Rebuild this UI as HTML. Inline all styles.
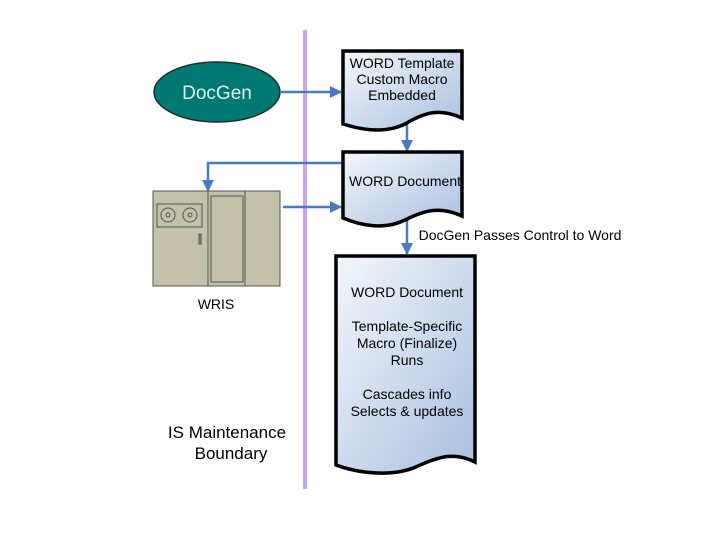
<!DOCTYPE html>
<html><head><style>body{margin:0;background:#fff}svg{display:block}</style></head><body>
<svg width="720" height="540" viewBox="0 0 720 540" xmlns="http://www.w3.org/2000/svg" font-family="Liberation Sans, sans-serif">
<defs>
<linearGradient id="g" x1="0" y1="0" x2="1" y2="1"><stop offset="0" stop-color="#f4f7fc"/><stop offset="1" stop-color="#a9bfe0"/></linearGradient>
<marker id="a" markerWidth="12" markerHeight="12" refX="11" refY="6" orient="auto" markerUnits="userSpaceOnUse"><path d="M0,0L12,6L0,12z" fill="#4a78c2"/></marker>
</defs>
<rect x="303" y="30" width="4" height="459" fill="#c8a4f2"/>
<ellipse cx="217" cy="92" rx="63" ry="30" fill="#007872" stroke="#1e3030" stroke-width="1.5"/>
<text x="217" y="99" font-size="19" fill="#d8f4f0" text-anchor="middle">DocGen</text>
<g stroke="#4a78c2" stroke-width="2.5" fill="none">
<path d="M280,92H341" marker-end="url(#a)"/>
<path d="M407,122V151" marker-end="url(#a)"/>
<path d="M343,163H208V191" marker-end="url(#a)"/>
<path d="M283,207H341" marker-end="url(#a)"/>
<path d="M407,218V254" marker-end="url(#a)"/>
</g>
<g stroke="#000" stroke-width="3.5" fill="url(#g)">
<path d="M343,51H462V118C440,108 425,112 405,124C385,134 362,130 343,124Z"/>
<path d="M343,152H462V216C440,206 425,210 405,220C385,230 362,226 343,218Z"/>
<path d="M336,256H475V462C455,452 440,456 418,466C395,477 360,474 336,465Z"/>
</g>
<g font-size="14" text-anchor="middle" fill="#000">
<text x="402" y="68">WORD Template</text>
<text x="402" y="84">Custom Macro</text>
<text x="402" y="100">Embedded</text>
<text x="405" y="186">WORD Document</text>
<text x="407" y="297">WORD Document</text>
<text x="407" y="331">Template-Specific</text>
<text x="407" y="348">Macro (Finalize)</text>
<text x="407" y="365">Runs</text>
<text x="407" y="399">Cascades info</text>
<text x="407" y="416">Selects &amp; updates</text>
<text x="520" y="240">DocGen Passes Control to Word</text>
<text x="216" y="309">WRIS</text>
</g>
<text x="227" y="438" font-size="17" text-anchor="middle">IS Maintenance</text>
<text x="231" y="459" font-size="17" text-anchor="middle">Boundary</text>
<g stroke="#555" stroke-width="1">
<rect x="153" y="191" width="55" height="95" fill="#c4c1aa"/>
<rect x="208" y="191" width="37" height="95" fill="#c4c1aa"/>
<rect x="245" y="191" width="35" height="95" fill="#c4c1aa"/>
<rect x="211" y="196" width="32" height="86" fill="#c4c1aa"/>
<rect x="157" y="204" width="45" height="23" fill="#c4c1aa"/>
<circle cx="168" cy="215" r="7" fill="none"/><circle cx="190" cy="215" r="7" fill="none"/>
<circle cx="168" cy="215" r="2" fill="none"/><circle cx="190" cy="215" r="2" fill="none"/>
<rect x="199" y="234" width="2" height="10" fill="#888"/>
</g>
</svg>
</body></html>
